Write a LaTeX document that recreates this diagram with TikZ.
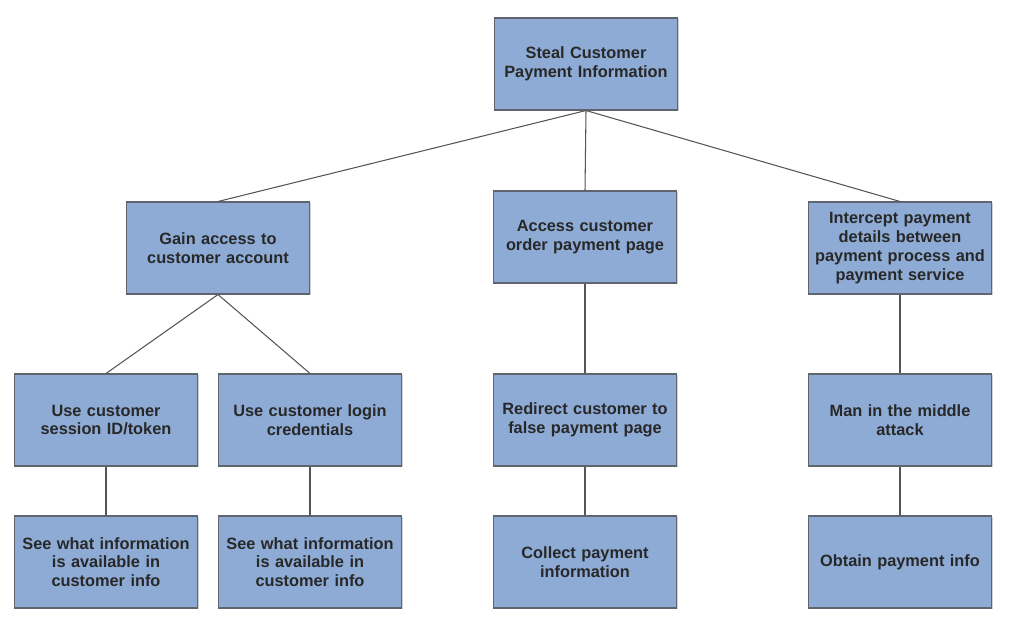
\documentclass[tikz,border=0pt]{standalone}
\usepackage{fontspec}
\setmainfont{Liberation Sans}
\usetikzlibrary{shadows}

\begin{document}
\begin{tikzpicture}[x=0.02cm, y=-0.02cm,
  goal/.style={draw=boxline, fill=boxblue, line width=0.6pt,
    minimum width=3.66cm, minimum height=1.84cm, inner sep=0pt,
    text width=3.62cm, align=center, text=textdark,
    font=\fontsize{9.3}{10.7}\selectfont\bfseries,
    drop shadow={shadow xshift=0.7pt, shadow yshift=-0.7pt, fill=black!35}},
  branch/.style={draw=linegray, line width=0.6pt}]

\definecolor{boxblue}{RGB}{141,171,213}
\definecolor{boxline}{RGB}{95,100,110}
\definecolor{linegray}{RGB}{85,85,85}
\definecolor{textdark}{RGB}{40,40,40}
\useasboundingbox (0, 0) rectangle (1034, 642);

\node[goal] (steal) at (586, 64) {Steal Customer\\Payment Information};

\node[goal] (account) at (218, 248) {Gain access to\\customer account};
\node[goal] (orderpage) at (585, 237) {Access customer\\order payment page};
\node[goal] (intercept) at (900, 248) {Intercept payment\\details between\\payment process and\\payment service};

\node[goal] (session) at (106, 420) {Use customer\\session ID/token};
\node[goal] (login) at (310, 420) {Use customer login\\credentials};
\node[goal] (redirect) at (585, 420) {Redirect customer to\\false payment page};
\node[goal] (mitm) at (900, 420) {Man in the middle\\attack};

\node[goal] (seesession) at (106, 562) {See what information\\is available in\\customer info};
\node[goal] (seelogin) at (310, 562) {See what information\\is available in\\customer info};
\node[goal] (collect) at (585, 562) {Collect payment\\information};
\node[goal] (obtain) at (900, 562) {Obtain payment info};

\draw[branch] (steal.south) -- (account.north);
\draw[branch] (steal.south) -- (orderpage.north);
\draw[branch] (steal.south) -- (intercept.north);

\draw[branch] (account.south) -- (session.north);
\draw[branch] (account.south) -- (login.north);
\draw[branch] (orderpage.south) -- (redirect.north);
\draw[branch] (intercept.south) -- (mitm.north);

\draw[branch] (session.south) -- (seesession.north);
\draw[branch] (login.south) -- (seelogin.north);
\draw[branch] (redirect.south) -- (collect.north);
\draw[branch] (mitm.south) -- (obtain.north);

\end{tikzpicture}
\end{document}
